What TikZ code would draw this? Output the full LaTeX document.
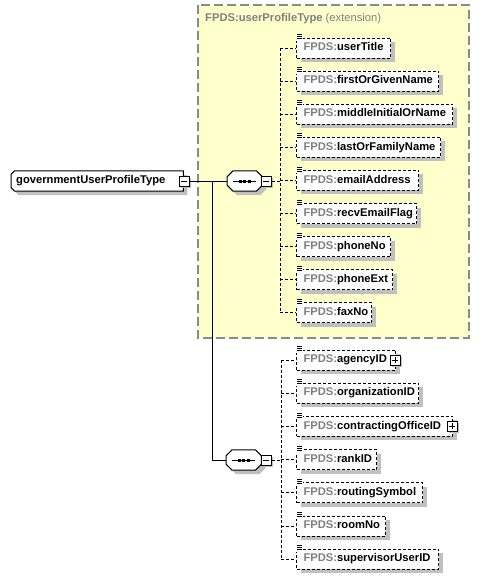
\documentclass[tikz,border=0pt]{standalone}
\usepackage{fontspec}
\setmainfont{Liberation Sans}
\usetikzlibrary{shadows}
\pgfdeclarelayer{bgzero}
\pgfdeclarelayer{bgone}
\pgfsetlayers{bgzero,bgone,main}
\definecolor{ybg}{HTML}{FFFFCC}
\definecolor{bgray}{HTML}{8A8A8A}
\definecolor{pgray}{HTML}{808080}
\definecolor{shgray}{HTML}{C0C0C0}
\newcommand{\pfx}{\textcolor{pgray}{FPDS:}}
\newcommand{\ellab}[2]{\hspace*{3pt}\makebox[#1pt][l]{\pfx #2}}
\newcommand{\icn}[1]{%
  \fill[white] ([xshift=-0.4pt,yshift=0.4pt]#1.north west) rectangle ([xshift=7pt,yshift=-3.5pt]#1.north west);
  \foreach \d in {3,1,-1}
    \draw[line width=0.8pt] ([xshift=1pt,yshift=\d pt]#1.north west) -- ([xshift=6pt,yshift=\d pt]#1.north west);}
\newcommand{\minusmark}[1]{\draw[line width=1pt] ([xshift=-3pt]#1.center) -- ([xshift=3pt]#1.center);}
\newcommand{\plusmark}[1]{\minusmark{#1}\draw[line width=1pt] ([yshift=-3pt]#1.center) -- ([yshift=3pt]#1.center);}
\newcommand{\seqmark}[1]{%
  \draw[line width=1pt] ([xshift=6pt]#1.west) -- ([xshift=-6pt]#1.east);
  \foreach \o in {-4.5,0,4.5}
    \fill ([xshift=\o pt-1.5pt,yshift=-1.5pt]#1.center) rectangle ([xshift=\o pt+1.5pt,yshift=1.5pt]#1.center);}
% octagon outline around a node: #1 node, #2 chamfer, #3 dx, #4 dy
\newcommand{\octpath}[4]{([xshift=#3+#2,yshift=#4]#1.north west) -- ([xshift=#3-#2,yshift=#4]#1.north east) -- ([xshift=#3,yshift=#4-#2]#1.north east) -- ([xshift=#3,yshift=#4+#2]#1.south east) -- ([xshift=#3-#2,yshift=#4]#1.south east) -- ([xshift=#3+#2,yshift=#4]#1.south west) -- ([xshift=#3,yshift=#4+#2]#1.south west) -- ([xshift=#3,yshift=#4-#2]#1.north west) -- cycle}
% left-chamfered outline
\newcommand{\lchpath}[4]{([xshift=#3+#2,yshift=#4]#1.north west) -- ([xshift=#3,yshift=#4]#1.north east) -- ([xshift=#3,yshift=#4]#1.south east) -- ([xshift=#3+#2,yshift=#4]#1.south west) -- ([xshift=#3,yshift=#4+#2]#1.south west) -- ([xshift=#3,yshift=#4-#2]#1.north west) -- cycle}
\begin{document}
\begin{tikzpicture}[x=1pt,y=-1pt,
  font=\fontsize{11.2}{13}\selectfont\bfseries,
  shad/.style={drop shadow={shadow xshift=4pt,shadow yshift=-4pt,fill=shgray,opacity=1}},
  elem/.style={draw, line width=1pt, dash pattern=on 3pt off 2pt, fill=white, shad,
    anchor=west, minimum height=20pt, inner ysep=0pt, inner xsep=4pt,
    text height=8pt, text depth=2.5pt},
  pmbox/.style={draw, line width=1pt, fill=white, minimum size=10pt, inner sep=0pt,
    drop shadow={shadow xshift=2pt,shadow yshift=-2pt,fill=shgray,opacity=1}},
  mainbox/.style={anchor=west, minimum height=20pt, inner ysep=0pt, inner xsep=5pt,
    text height=8pt, text depth=2.5pt},
  seqbox/.style={anchor=west, minimum width=35pt, minimum height=20pt, inner sep=0pt},
  shapefill/.style={fill=white, draw=black, line width=1pt},
  conn/.style={line width=1pt},
  dconn/.style={line width=1pt, dash pattern=on 3pt off 2pt},
  ybox/.style={fill=ybg, draw=bgray, line width=1.5pt, dash pattern=on 9pt off 4pt}
]
\useasboundingbox (0,0) rectangle (480,579);
\begin{pgfonlayer}{bgzero}
\fill[white] (0,0) rectangle (480,579);
\end{pgfonlayer}

% extension container
\draw[ybox] (198,5) rectangle (469,338);
\node[anchor=west, text=pgray, inner sep=0pt] (ttl) at (205,19) {FPDS:userProfileType \mdseries(extension)};

% main type
\node[mainbox] (gupt) at (11,181) {\makebox[162pt][l]{governmentUserProfileType}};
\begin{pgfonlayer}{bgone}
\fill[shgray] \lchpath{gupt}{3.5pt}{4pt}{-4pt};
\filldraw[shapefill] \lchpath{gupt}{3.5pt}{0pt}{0pt};
\end{pgfonlayer}
\node[pmbox] (m0) at ([xshift=1pt]gupt.east) {};
\minusmark{m0}

% sequences
\node[seqbox] (seq1) at (227,181) {};
\fill[shgray] \octpath{seq1}{6pt}{4pt}{-4pt};
\filldraw[shapefill] \octpath{seq1}{6pt}{0pt}{0pt};
\seqmark{seq1}
\node[pmbox] (m1) at (266,181) {};
\minusmark{m1}
\node[seqbox] (seq2) at (226,460) {};
\fill[shgray] \octpath{seq2}{6pt}{4pt}{-4pt};
\filldraw[shapefill] \octpath{seq2}{6pt}{0pt}{0pt};
\seqmark{seq2}
\node[pmbox] (m2) at (266,460) {};
\minusmark{m2}

% elements of extension
\node[elem] (e1) at (296,48)    {\ellab{83}{userTitle}};
\node[elem] (e2) at (296,81.1)  {\ellab{131}{firstOrGivenName}};
\node[elem] (e3) at (296,114.2) {\ellab{145}{middleInitialOrName}};
\node[elem] (e4) at (296,147.3) {\ellab{133}{lastOrFamilyName}};
\node[elem] (e5) at (296,180.4) {\ellab{111}{emailAddress}};
\node[elem] (e6) at (296,213.5) {\ellab{109}{recvEmailFlag}};
\node[elem] (e7) at (296,246.6) {\ellab{83}{phoneNo}};
\node[elem] (e8) at (296,279.7) {\ellab{85}{phoneExt}};
\node[elem] (e9) at (296,312.8) {\ellab{64}{faxNo}};

% elements of second sequence
\node[elem] (f1) at (296,360)   {\ellab{88}{agencyID}};
\node[elem] (f2) at (296,393.2) {\ellab{111}{organizationID}};
\node[elem] (f3) at (296,426.4) {\ellab{145}{contractingOfficeID}};
\node[elem] (f4) at (296,459.6) {\ellab{69}{rankID}};
\node[elem] (f5) at (296,492.8) {\ellab{115}{routingSymbol}};
\node[elem] (f6) at (296,526)   {\ellab{78}{roomNo}};
\node[elem] (f7) at (296,559.2) {\ellab{131}{supervisorUserID}};

\node[pmbox] (p1) at ([xshift=-1pt]f1.east) {};
\plusmark{p1}
\node[pmbox] (p3) at ([xshift=-1pt]f3.east) {};
\plusmark{p3}

\foreach \n in {e1,e2,e3,e4,e5,e6,e7,e8,e9,f1,f2,f3,f4,f5,f6,f7} {\icn{\n}}

% connectors
\coordinate (j) at (212,181);
\coordinate (b1) at (280,181);
\coordinate (b2) at (281,460);
\draw[conn] (m0.east) -- (seq1.west);
\draw[conn] (j) |- (seq2.west);
\draw[dconn] (m1.east) -- (b1);
\draw[dconn] (m2.east) -- (b2);
\draw[dconn] (e1.west -| b1) -- (e9.west -| b1);
\draw[dconn] (f1.west -| b2) -- (f7.west -| b2);
\foreach \n in {e1,e2,e3,e4,e5,e6,e7,e8,e9}
  \draw[dconn] (\n.west -| b1) -- (\n.west);
\foreach \n in {f1,f2,f3,f4,f5,f6,f7}
  \draw[dconn] (\n.west -| b2) -- (\n.west);
\end{tikzpicture}
\end{document}
